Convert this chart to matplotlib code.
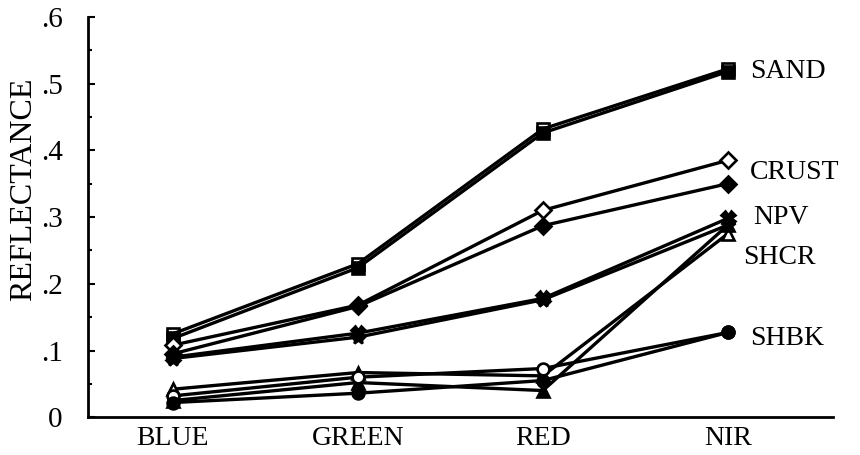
import numpy as np
import matplotlib.pyplot as plt
from matplotlib.ticker import MultipleLocator, FuncFormatter
from matplotlib.transforms import ScaledTranslation

plt.rcParams['font.family'] = ['Liberation Serif', 'DejaVu Serif']

# === Data ===
bands = ["BLUE", "GREEN", "RED", "NIR"]

sand_a  = [0.125, 0.230, 0.432, 0.522]
sand_b  = [0.118, 0.224, 0.426, 0.518]
crust_a = [0.108, 0.168, 0.310, 0.385]
crust_b = [0.095, 0.166, 0.287, 0.350]
npv_a   = [0.090, 0.126, 0.178, 0.298]
npv_b   = [0.088, 0.120, 0.176, 0.288]
shcr_a  = [0.042, 0.067, 0.062, 0.275]
shcr_b  = [0.025, 0.052, 0.040, 0.288]
shbk_a  = [0.032, 0.060, 0.073, 0.127]
shbk_b  = [0.022, 0.036, 0.055, 0.127]

labels  = ["SAND", "CRUST", "NPV", "SHCR", "SHBK"]
label_y = [0.518, 0.367, 0.300, 0.240, 0.118]
label_dx = [16, 16, 18, 11, 16]   # points right of the NIR column

series = [
    (sand_a,  "s", "none"),
    (sand_b,  "s", "black"),
    (crust_a, "D", "white"),
    (crust_b, "D", "black"),
    (npv_a,   "X", "black"),
    (npv_b,   "*", "black"),
    (shcr_a,  "^", "white"),
    (shcr_b,  "^", "black"),
    (shbk_a,  "o", "white"),
    (shbk_b,  "o", "black"),
]

x = np.arange(len(bands))

fig = plt.figure(figsize=(8.6, 4.55), dpi=100)
ax = fig.add_axes([0.102, 0.083, 0.867, 0.880])

for vals, mk, fc in series:
    ms = 10 if mk in ("X", "*") else 8.5
    ax.plot(x, vals, color="black", linewidth=2.4, marker=mk, markersize=ms,
            markerfacecolor=fc, markeredgecolor="black", markeredgewidth=1.9)

for lab, yv, dx in zip(labels, label_y, label_dx):
    ax.text(x[-1], yv, lab, fontsize=20, va="center", ha="left",
            transform=ax.transData + ScaledTranslation(dx/72, 0, fig.dpi_scale_trans))

ax.set_xlim(-0.46, 3.57)
ax.set_ylim(0, 0.6)
ax.set_xticks(x)
ax.set_xticklabels(bands, fontsize=20)
ax.tick_params(axis="x", length=0, pad=6)

ax.yaxis.set_major_locator(MultipleLocator(0.1))
ax.yaxis.set_minor_locator(MultipleLocator(0.05))
ax.yaxis.set_major_formatter(FuncFormatter(lambda v, p: "0" if abs(v) < 1e-9 else f"{v:.1f}".lstrip("0")))
ax.tick_params(axis="y", which="major", direction="in", length=5, width=1.5, labelsize=21, pad=18)
ax.tick_params(axis="y", which="minor", direction="in", length=3, width=1.5)

ax.set_ylabel("REFLECTANCE", fontsize=23)
ax.yaxis.set_label_coords(-0.066, 0.57)

for s in ("top", "right"):
    ax.spines[s].set_visible(False)
ax.spines["left"].set_linewidth(2)
ax.spines["bottom"].set_linewidth(2)

fig.savefig("out.png", dpi=100)
